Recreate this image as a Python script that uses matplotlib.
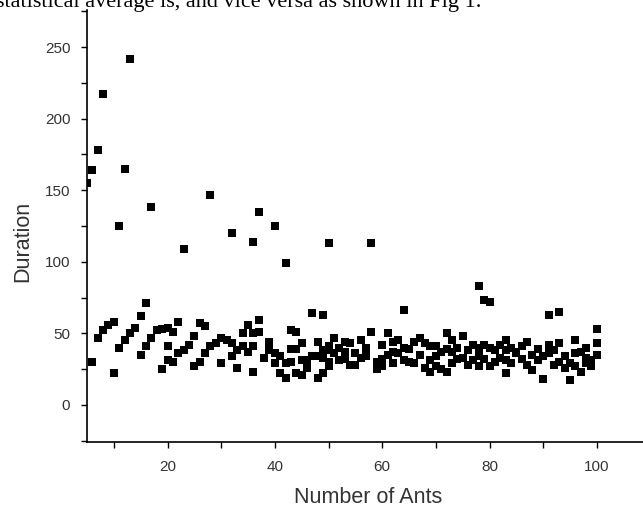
import matplotlib
matplotlib.use("Agg")
import matplotlib.pyplot as plt
from matplotlib.ticker import MultipleLocator

ants = [
    5, 6, 7, 8, 11, 12, 13, 16, 17, 23, 28, 32, 36, 37, 40, 42, 47, 49, 50, 58,
    64, 78, 79, 80, 91, 93, 100,
    6, 7, 8, 9, 10, 10, 11, 12, 13, 14, 15, 15, 16, 17, 18, 19, 19,
    20, 20, 20, 21, 21, 22, 22, 23, 24, 25, 25, 26, 26, 27, 27, 28, 29,
    30, 30, 31, 32, 32, 33, 33, 34, 34, 35, 35, 36, 36, 36, 37, 37, 38,
    39, 39, 40, 40, 41, 41, 42, 42, 43, 43, 43, 44, 44, 44, 45, 45, 45,
    46, 46, 47, 48, 48, 48, 49, 49, 49, 50, 50, 50, 50,
    51, 51, 52, 52, 53, 53, 53, 54, 54, 55, 55, 56, 56, 57, 57, 58, 59, 59,
    60, 60, 60, 61, 61, 62, 62, 62, 63, 63, 64, 64, 65, 65, 66, 66, 67, 67,
    68, 68, 69, 69, 69, 70, 70, 70, 71, 71, 72, 72, 72, 73, 73, 73,
    74, 74, 75, 75, 76, 76, 77, 77, 78, 78, 78, 79, 79, 80, 80, 81, 81,
    82, 82, 83, 83, 83, 83, 84, 84, 85, 85, 86, 86, 87, 87, 88, 88, 89, 89,
    90, 90, 91, 91, 92, 92, 93, 93, 94, 94, 95, 95, 96, 96, 96, 97, 97,
    98, 98, 98, 99, 99, 100, 100,
]
duration = [
    155, 164, 178, 217, 125, 165, 242, 71, 138, 109, 147, 120, 114, 135, 125, 99, 64, 63, 113, 113,
    66, 83, 73, 72, 63, 65, 53,
    30, 47, 52, 56, 58, 22, 40, 45, 50, 54, 62, 35, 41, 47, 52, 53, 25,
    54, 41, 31, 51, 30, 58, 36, 38, 42, 48, 27, 57, 30, 55, 36, 41, 43,
    47, 29, 45, 43, 34, 38, 26, 50, 41, 56, 37, 50, 41, 23, 59, 51, 33,
    44, 38, 36, 29, 34, 22, 29, 19, 52, 39, 30, 51, 39, 22, 43, 31, 21,
    31, 26, 34, 44, 34, 19, 38, 33, 22, 41, 38, 30, 27,
    47, 36, 31, 40, 44, 37, 32, 43, 28, 36, 28, 45, 33, 34, 40, 51, 30, 25,
    32, 27, 42, 50, 35, 44, 37, 29, 45, 36, 40, 31, 39, 30, 44, 29, 35, 47,
    43, 26, 41, 31, 23, 34, 41, 27, 25, 37, 50, 39, 23, 45, 29, 37,
    40, 32, 48, 33, 38, 28, 42, 31, 34, 40, 27, 42, 32, 40, 27, 38, 30,
    33, 42, 45, 38, 31, 22, 29, 40, 37, 36, 32, 41, 44, 28, 24, 35, 39, 31,
    34, 18, 36, 42, 28, 38, 43, 30, 34, 26, 29, 17, 45, 27, 36, 37, 23,
    33, 40, 29, 31, 27, 43, 35,
]

x_ticks = [20, 40, 60, 80, 100]
y_ticks = [0, 50, 100, 150, 200, 250]

fig = plt.figure(figsize=(6.43, 5.13), dpi=100)
ax = fig.add_axes([87 / 643, 1 - 442 / 513, 556 / 643, 432 / 513])

ax.plot(ants, duration, linestyle="none", marker="s", markersize=5.8,
        markeredgewidth=0, color="black")

ax.set_xlim(5, 108.6)
ax.set_ylim(-26, 276)
ax.set_xticks(x_ticks)
ax.set_yticks(y_ticks)
ax.xaxis.set_minor_locator(MultipleLocator(10))
ax.yaxis.set_minor_locator(MultipleLocator(25))

for side in ["top", "right"]:
    ax.spines[side].set_visible(False)
for side in ["left", "bottom"]:
    ax.spines[side].set_linewidth(1.2)

ax.tick_params(which="both", direction="out", length=4, width=1.0, color="black")
ax.tick_params(axis="y", which="major", pad=8)
ax.tick_params(axis="x", which="major", pad=9)
for lab in ax.get_xticklabels() + ax.get_yticklabels():
    lab.set_fontfamily("Liberation Sans")
    lab.set_fontsize(11)
    lab.set_color("#333333")

ax.set_xlabel("Number of Ants", fontfamily="Liberation Sans", fontsize=15.5, color="#333333")
ax.set_ylabel("Duration", fontfamily="Liberation Sans", fontsize=15.5, color="#333333")
ax.xaxis.set_label_coords(0.506, -0.104)
ax.yaxis.set_label_coords(-0.097, 0.465)

# clipped line of the surrounding paper text
fig.text(-4 / 643, 1 - 7.5 / 513, "statistical average is, and vice versa as shown in Fig 1.",
         fontfamily="Liberation Serif", fontsize=16, va="baseline", ha="left")

fig.savefig("out.png", dpi=100)
